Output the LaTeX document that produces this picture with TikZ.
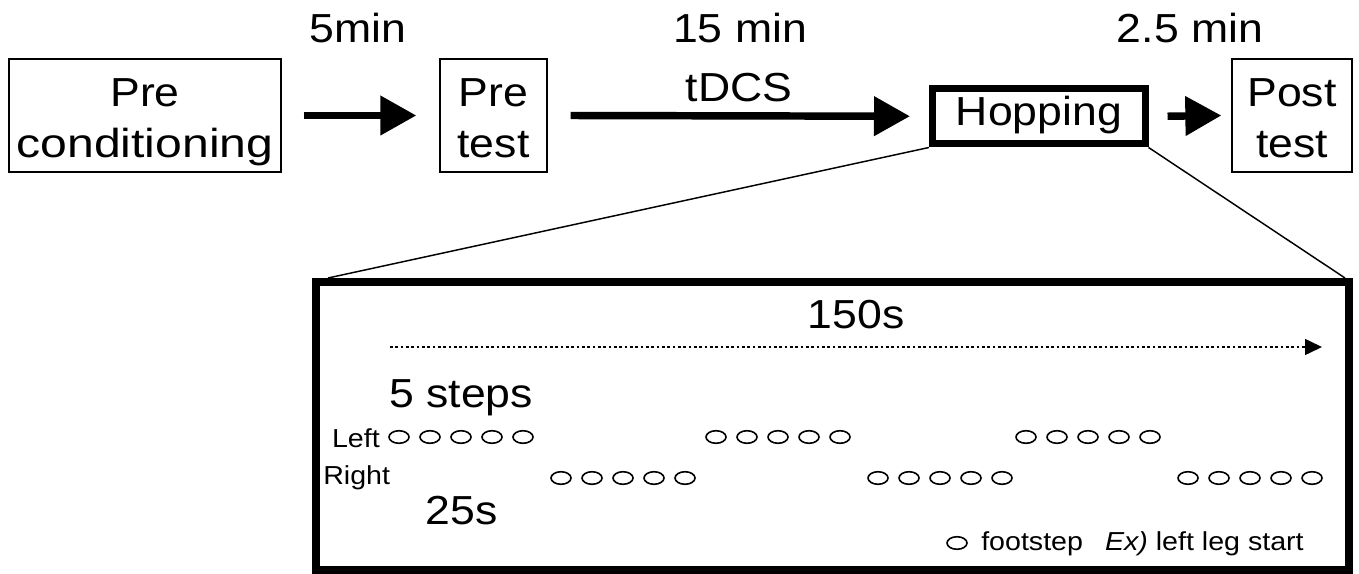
\documentclass[tikz,border=0pt]{standalone}
\usepackage{fontspec}
\usepackage{graphicx}
\setmainfont{Liberation Sans}[FakeStretch=1.1]
\usetikzlibrary{arrows.meta}
\tikzset{
  bigfont/.style={font=\fontsize{30.4pt}{37.5pt}\selectfont},
  smallfont/.style={font=\fontsize{19.5pt}{22pt}\selectfont},
  lbl/.style={inner sep=0pt, anchor=base},
  thinbox/.style={draw, line width=1pt, inner sep=0pt},
  thickbox/.style={draw, line width=5.25pt, inner sep=0pt},
  framebox/.style={draw, line width=6pt, inner sep=0pt},
  flowarrow/.style={line width=5.6pt, -{Triangle[length=27pt,width=28.5pt]}},
  timearrow/.style={line width=1.1pt, dash pattern=on 2pt off 2pt, -{Triangle[length=12.75pt,width=12pt]}},
  zoomline/.style={line width=1.1pt},
  footstep/.style={line width=1.2pt}
}
\begin{document}
\begin{tikzpicture}[x=0.75pt,y=-0.75pt]
\useasboundingbox (0,0) rectangle (1359,574);

% top flow boxes
\node[thinbox, minimum width=204pt, minimum height=84.75pt] (pre) at (145,115.5) {};
\node[thinbox, minimum width=80.25pt, minimum height=84.75pt] (pretest) at (493.5,115.5) {};
\node[thickbox, minimum width=159.4pt, minimum height=41.6pt] (hop) at (1038.75,116.25) {};
\node[thinbox, minimum width=90pt, minimum height=84.75pt] (post) at (1292,115.5) {};

% box texts
\node[lbl, bigfont] (preA) at (145,107) {Pre};
\node[lbl, bigfont] (preB) at (145,157) {\scalebox{1.08}[1]{conditioning}};
\node[lbl, bigfont] (ptA) at (493.5,107) {Pre};
\node[lbl, bigfont] (ptB) at (493.5,157) {test};
\node[lbl, bigfont] (hopT) at (1039,126) {Hopping};
\node[lbl, bigfont] (poA) at (1292,107) {Post};
\node[lbl, bigfont] (poB) at (1292,157) {test};

% arrows
\draw[flowarrow] ([xshift=16.5pt]pre.east) -- ([xshift=-17.25pt]pretest.west);
\draw[flowarrow] ([xshift=17.25pt]pretest.east) -- ([xshift=-14.25pt]hop.west);
\draw[flowarrow] ([xshift=14.25pt]hop.east) -- ([xshift=-7.5pt]post.west);

% arrow labels
\node[lbl, bigfont] (t1) at (358,43) {5min};
\node[lbl, bigfont] (t2) at (740,43) {15 min};
\node[lbl, bigfont] (t2b) at (739,102) {tDCS};
\node[lbl, bigfont] (t3) at (1190,43) {2.5 min};

% zoom frame
\node[framebox, minimum width=774.75pt, minimum height=216pt] (big) at (832.5,426) {};
\draw[zoomline] (hop.south west) -- ([xshift=12pt]big.north west);
\draw[zoomline] (hop.south east) -- ([xshift=-6pt]big.north east);

% time axis
\coordinate (ts) at (390,347);
\coordinate (te) at (1322,347);
\draw[timearrow] (ts) -- (te);
\node[lbl, bigfont] (dur) at (856,328) {150s};

% labels inside
\node[lbl, bigfont, anchor=base west] (steps) at (389,407) {5 steps};
\node[lbl, smallfont, anchor=base east] (left) at (380,447) {Left};
\node[lbl, smallfont, anchor=base west] (right) at (323,484) {Right};
\node[lbl, bigfont] (t25) at (461.5,524) {25s};

% footsteps
\foreach \gx in {399,716,1026}
  \foreach \i in {0,...,4}
    \draw[footstep] (\gx+31*\i,437) ellipse [x radius=7.5pt, y radius=4.7pt];
\foreach \gx in {561,878,1188}
  \foreach \i in {0,...,4}
    \draw[footstep] (\gx+31*\i,478) ellipse [x radius=7.5pt, y radius=4.7pt];

% legend
\draw[footstep] (957,543) ellipse [x radius=7.5pt, y radius=4.7pt];
\node[lbl, smallfont, anchor=base west] (legend) at (981,550) {footstep\hspace{16.5pt}\textit{Ex)} left leg start};
\end{tikzpicture}
\end{document}
